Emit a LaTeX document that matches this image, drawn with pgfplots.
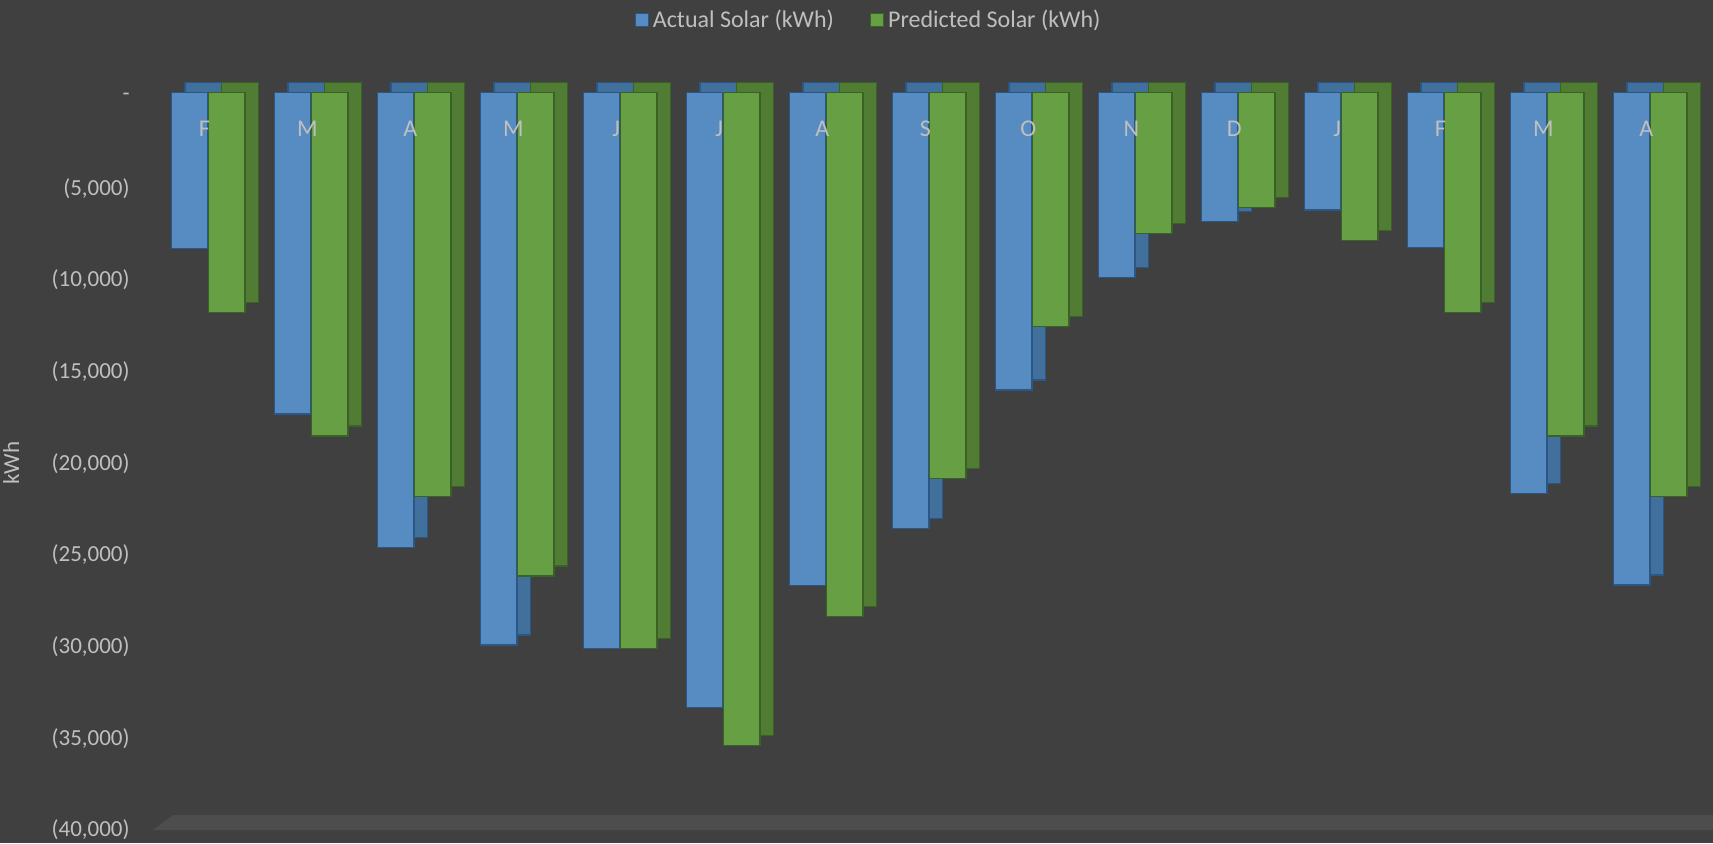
\documentclass[border=0pt]{standalone}
\usepackage{pgfplots}
\pgfplotsset{compat=1.18}
\usepackage{fontspec}
\setmainfont{Carlito}
\definecolor{bg}{HTML}{404040}
\definecolor{floorc}{HTML}{4E4D4E}
\definecolor{txt}{HTML}{BFBFBF}
\definecolor{bfront}{HTML}{568CC1}
\definecolor{bside}{HTML}{42709D}
\definecolor{bedge}{HTML}{2A5786}
\definecolor{gfront}{HTML}{67A044}
\definecolor{gside}{HTML}{507C34}
\definecolor{gedge}{HTML}{3A6224}
\pgfplotstableread{
x actual predicted
0  -8510  -12000
1  -17540 -18740
2  -24830 -22050
3  -30140 -26370
4  -30320 -30320
5  -33560 -35630
6  -26900 -28590
7  -23780 -21050
8  -16230 -12780
9  -10110 -7690
10 -7060  -6270
11 -6420  -8090
12 -8470  -12000
13 -21860 -18740
14 -26860 -22050
}\solar
\begin{document}
\begin{tikzpicture}
\fill[bg] (0,0) rectangle (856.5pt,421.5pt);
\fill[floorc] (76.5pt,6.5pt) -- (86.5pt,14pt) -- (856.5pt,14pt) -- (856.5pt,6.5pt) -- cycle;
\begin{axis}[
  at={(75pt,8.55pt)}, anchor=south west,
  scale only axis, width=781.5pt, height=385.15pt,
  xmin=-0.527, xmax=14.648, ymin=-40000, ymax=2000,
  clip=false, axis on top,
  scaled y ticks=false,
  ybar, bar width=18.25pt,
  axis line style={draw=none}, tick style={draw=none},
  xtick={0,...,14},
  xticklabels={F,M,A,M,J,J,A,S,O,N,D,J,F,M,A},
  xticklabel pos=upper,
  xticklabel style={anchor=center, yshift=-41pt, font=\fontsize{12}{14}\selectfont, text=txt},
  ytick={0,-5000,-10000,-15000,-20000,-25000,-30000,-35000,-40000},
  yticklabels={{-},{(5,000)},{(10,000)},{(15,000)},{(20,000)},{(25,000)},{(30,000)},{(35,000)},{(40,000)}},
  yticklabel style={anchor=east, inner sep=0pt, xshift=-10pt, yshift=-2.1pt, font=\fontsize{11.5}{13}\selectfont, text=txt},
  ylabel={kWh},
  every axis y label/.style={at={(axis description cs:-0.0889,0.471)}, rotate=90, anchor=center, font=\fontsize{11.5}{13}\selectfont, text=txt},
  legend style={at={(axis description cs:0.4604,1.0462)}, anchor=center, draw=none, fill=none,
    font=\fontsize{12}{14}\selectfont, text=txt, legend columns=2,
    /tikz/every even column/.append style={column sep=16pt}},
  legend image code/.code={\draw[#1, line width=0.6pt] (0pt,-3.25pt) rectangle (6.5pt,3.25pt);},
]
\addplot[forget plot, fill=bside, draw=bedge, line width=0.7pt, bar shift=-0.6pt, yshift=5pt] table[x=x,y=actual]{\solar};
\addplot[fill=bfront, draw=bedge, line width=0.7pt, bar shift=-7.25pt] table[x=x,y=actual]{\solar};
\addlegendentry{Actual Solar (kWh)}
\addplot[forget plot, fill=gside, draw=gedge, line width=0.7pt, bar shift=17.85pt, yshift=5pt] table[x=x,y=predicted]{\solar};
\addplot[fill=gfront, draw=gedge, line width=0.7pt, bar shift=11.2pt] table[x=x,y=predicted]{\solar};
\addlegendentry{Predicted Solar (kWh)}
\end{axis}
\pgfresetboundingbox
\path (0,0) rectangle (856.5pt,421.5pt);
\end{tikzpicture}
\end{document}
